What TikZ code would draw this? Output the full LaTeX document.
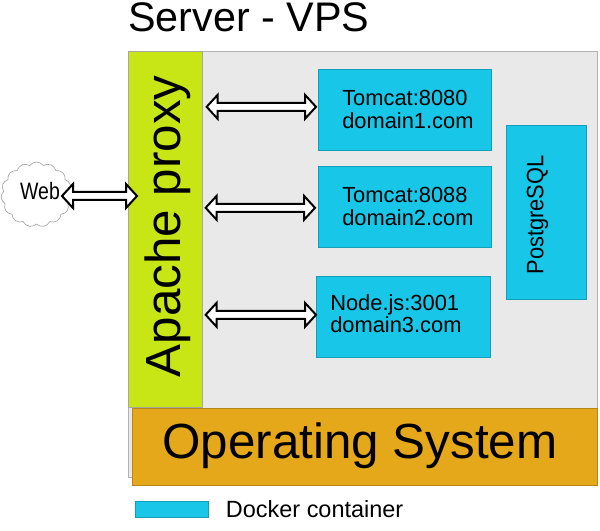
\documentclass[tikz,border=0pt]{standalone}
\usepackage{fontspec}
\setmainfont{Liberation Sans}
\usetikzlibrary{shapes,positioning,calc}
\definecolor{CbgA}{RGB}{233,233,233}
\definecolor{CproxyA}{RGB}{200,230,22}
\definecolor{CosA}{RGB}{229,168,26}
\definecolor{CdockerA}{RGB}{24,198,232}
\pgfmathsetmacro{\u}{.75}
\tikzset{
dockerbox/.style={draw=CdockerA!80!black, line width=.5pt, fill=CdockerA, anchor=north west, inner sep=0pt},
boxlabel/.style={align=left, inner sep=0pt, font=\fontsize{16.4}{17.25}\selectfont},
dblarrow/.style={draw=black, fill=white, line width=1.5pt, miter limit=4, to path={
let \p1=(\tikztostart), \p2=(\tikztotarget) in
(\x1,\y1) -- (\x1+8.25pt,\y1+9pt) -- (\x1+8.25pt,\y1+3pt) -- (\x2-8.25pt,\y1+3pt)
-- (\x2-8.25pt,\y1+9pt) -- (\x2,\y1) -- (\x2-8.25pt,\y1-9pt) -- (\x2-8.25pt,\y1-3pt)
-- (\x1+8.25pt,\y1-3pt) -- (\x1+8.25pt,\y1-9pt) -- cycle}},
}

\begin{document}
\begin{tikzpicture}[x=.75pt,y=-.75pt]
\useasboundingbox (0,0) rectangle (600,531);

%% Server
\node[anchor=north west, inner sep=0pt, draw=black!30, line width=.75pt, fill=CbgA,
minimum width=469*\u pt, minimum height=426*\u pt] (server) at (128,51) {};
\node[anchor=base west, inner sep=0pt, font=\fontsize{31}{31}\selectfont] (title) at (128,32) {Server - VPS};

%% Apache
\node[anchor=north west, inner sep=0pt, draw=black!35, line width=.5pt, fill=CproxyA,
minimum width=74*\u pt, minimum height=356*\u pt] (proxy) at (128,51) {};
\node[rotate=90, anchor=base, inner sep=0pt, font=\fontsize{37}{37}\selectfont] (proxytext) at ($(proxy.center)+(15,-3)$) {Apache proxy};

%% Operating system
\node[anchor=north west, inner sep=0pt, draw=CosA!80!black, line width=.75pt, fill=CosA,
minimum width=465*\u pt, minimum height=77*\u pt] (os) at (132,408) {};
\node[inner sep=0pt, font=\fontsize{37}{37}\selectfont] (ostext) at ($(os.center)+(-5,-1)$) {Operating System};

%% Containers
\node[dockerbox, minimum width=173*\u pt, minimum height=81*\u pt] (tomcatA) at (318,69) {};
\node[boxlabel, right=24*\u pt of tomcatA.west] (tomcatAtext) {Tomcat:8080\\domain1.com};

\node[dockerbox, minimum width=173*\u pt, minimum height=81*\u pt] (tomcatB) at (318,166) {};
\node[boxlabel, right=24*\u pt of tomcatB.west] (tomcatBtext) {Tomcat:8088\\domain2.com};

\node[dockerbox, minimum width=174*\u pt, minimum height=81*\u pt] (nodeC) at (316,276) {};
\node[boxlabel, font=\fontsize{16.4}{16.5}\selectfont, right=14*\u pt of nodeC.west, yshift=2.5pt] (nodeCtext) {Node.js:3001\\domain3.com};

\node[dockerbox, minimum width=80*\u pt, minimum height=174*\u pt] (postgres) at (506,125) {};
\node[rotate=90, anchor=base, inner sep=0pt, font=\fontsize{17.8}{18}\selectfont] (postgrestext) at ($(postgres.center)+(-3,2.5)$) {\scalebox{.92}[1]{PostgreSQL}};

%% Web
\node[cloud, cloud puffs=15, cloud puff arc=110, draw=black!35, line width=.5pt, fill=white,
inner sep=0pt, minimum width=71*\u pt, minimum height=65*\u pt] (web) at (36.5,194.5) {};
\node[anchor=base, inner sep=0pt, font=\fontsize{17.8}{18}\selectfont] (webtext) at (40,200) {\scalebox{.82}[1]{Web}};

%% Arrows
\draw[dblarrow] ($(web.center)+(25.5,1.5)$) to ($(proxy.west)+(9,-33)$);
\coordinate (arrA) at ($(tomcatA.west)+(-2,-3)$);
\coordinate (arrB) at ($(tomcatB.west)+(-3,1)$);
\coordinate (arrC) at ($(nodeC.west)+(0,-2)$);
\draw[dblarrow] ($(proxy.east |- arrA)+(4,0)$) to (arrA);
\draw[dblarrow] ($(proxy.east |- arrB)+(3,0)$) to (arrB);
\draw[dblarrow] ($(proxy.east |- arrC)+(3,0)$) to (arrC);

%% Legend
\node[dockerbox, minimum width=73*\u pt, minimum height=16*\u pt] (legend) at (135,501) {};
\node[inner sep=0pt, anchor=west, font=\fontsize{17.6}{18}\selectfont, right=17*\u pt of legend.east] (legendtext) {Docker container};
\end{tikzpicture}
\end{document}
